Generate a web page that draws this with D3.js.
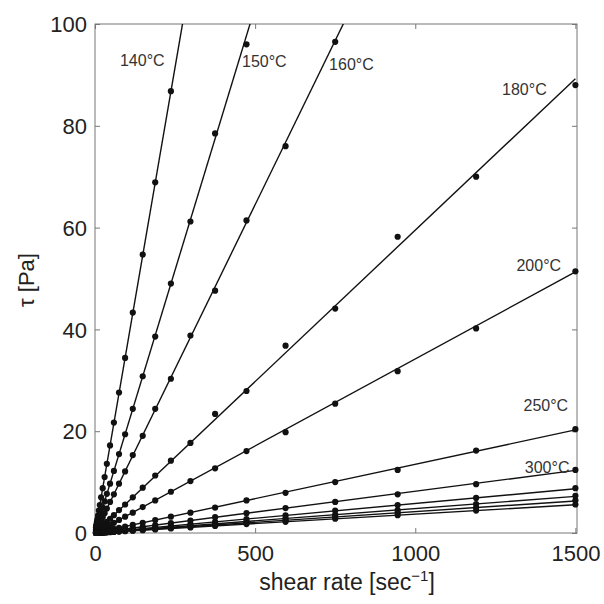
<!DOCTYPE html>
<html><head><meta charset="utf-8">
<script src="https://cdn.jsdelivr.net/npm/d3@7"></script>
<style>
html,body{margin:0;padding:0;background:#fff;}
svg{display:block;}
text{font-family:"Liberation Sans",Arial,Helvetica,sans-serif;}
</style></head>
<body>
<svg id="chart" width="604" height="604"></svg>
<script>
// ---------- data ----------
const shearRates = [1500, 1190, 945, 750, 595, 473, 375, 298, 237, 188, 149, 118, 94, 75, 59, 47, 37, 30, 24, 19, 15, 12, 9.4, 7.5, 5.9, 4.7, 3.7, 3.0];
const temperatures = ["140°C", "150°C", "160°C", "180°C", "200°C", "250°C", "300°C", "", "", "", ""];
const fitSlopes = [0.366, 0.2066, 0.129, 0.0595, 0.0342, 0.0135, 0.0082, 0.0058, 0.0048, 0.0042, 0.0037];
const stress140 = [null, null, null, null, null, null, null, null, 86.8, 68.9, 54.7, 43.3, 34.4, 27.6, 21.7, 17.2, 13.6, 11.0, 8.8, 7.0, 5.5, 4.4, 3.4, 2.7, 2.2, 1.7, 1.4, 1.1];
const stress150 = [null, null, null, null, null, 96.0, 78.5, 61.2, 49.0, 38.6, 30.8, 24.4, 19.4, 15.5, 12.2, 9.7, 7.7, 6.2, 5.0, 3.9, 3.1, 2.5, 1.9, 1.55, 1.2, 0.97, 0.76, 0.62];
const stress160 = [null, null, null, 96.5, 76.0, 61.4, 47.6, 38.8, 30.3, 24.4, 19.1, 15.3, 12.1, 9.7, 7.6, 6.1, 4.8, 3.9, 3.1, 2.45, 1.95, 1.55, 1.2, 0.97, 0.76, 0.61, 0.48, 0.39];
const stress180 = [88.0, 70.0, 58.2, 44.1, 36.8, 27.9, 23.4, 17.7, 14.2, 11.3, 8.9, 7.0, 5.6, 4.5, 3.5, 2.8, 2.2, 1.8, 1.4, 1.13, 0.9, 0.71, 0.56, 0.45, 0.35, 0.28, 0.22, 0.18];
const stress200 = [51.4, 40.2, 31.8, 25.4, 19.8, 16.1, 12.7, 10.2, 8.1, 6.4, 5.1, 4.0, 3.2, 2.56, 2.0, 1.6, 1.27, 1.03, 0.82, 0.65, 0.51, 0.41, 0.32, 0.26, 0.2, 0.16, 0.13, 0.1];
const stress250 = [20.4, 16.2, 12.4, 10.0, 7.9, 6.4, 5.0, 4.0, 3.2, 2.55, 2.0, 1.6, 1.27, 1.0, 0.8, 0.63, 0.5, 0.4, 0.32, 0.26, 0.2, 0.16, 0.13, 0.1, 0.08, 0.06, 0.05, 0.04];
const stress300 = [12.4, 9.6, 7.6, 6.1, 4.9, 3.9, 3.1, 2.45, 1.95, 1.54, 1.22, 0.97, 0.77, 0.62, 0.48, 0.39, 0.3, 0.25, 0.2, 0.16, 0.12, 0.1, 0.08, 0.06, 0.05, 0.04, 0.03, 0.025];
const stressL8 = [8.8, 6.9, 5.5, 4.4, 3.45, 2.75, 2.2, 1.73, 1.37, 1.09, 0.86, 0.68, 0.55, 0.44, 0.34, 0.27, 0.21, 0.17, 0.14, 0.11, 0.087, 0.07, 0.055, 0.044, 0.034, 0.027, 0.021, 0.017];
const stressL9 = [7.3, 5.7, 4.5, 3.6, 2.86, 2.27, 1.8, 1.43, 1.14, 0.9, 0.72, 0.57, 0.45, 0.36, 0.28, 0.23, 0.18, 0.14, 0.115, 0.09, 0.072, 0.058, 0.045, 0.036, 0.028, 0.023, 0.018, 0.014];
const stressL10 = [6.4, 5.0, 4.0, 3.15, 2.5, 2.0, 1.58, 1.25, 1.0, 0.79, 0.63, 0.5, 0.39, 0.32, 0.25, 0.2, 0.155, 0.126, 0.1, 0.08, 0.063, 0.05, 0.04, 0.032, 0.025, 0.02, 0.016, 0.013];
const stressL11 = [5.6, 4.4, 3.5, 2.8, 2.2, 1.75, 1.39, 1.1, 0.88, 0.7, 0.55, 0.44, 0.35, 0.28, 0.22, 0.17, 0.137, 0.11, 0.09, 0.07, 0.055, 0.044, 0.035, 0.028, 0.022, 0.017, 0.014, 0.011];
const xTicks = [0, 500, 1000, 1500];
const yTicks = [0, 20, 40, 60, 80, 100];
// label anchors (data coords) kept separate from values
const labelAnchorX = [78, 459, 731, 1271, 1316, 1338, 1342];
const labelAnchorY = [91.7, 91.5, 90.9, 86.0, 51.4, 24.0, 11.8];

const allStress = [stress140, stress150, stress160, stress180, stress200, stress250, stress300, stressL8, stressL9, stressL10, stressL11];

// ---------- layout ----------
const svg = d3.select("#chart");
const mLeft = 95, mRight = 577, mTop = 24, mBottom = 533;
const x = d3.scaleLinear().domain([0, 1505]).range([mLeft, mRight]);
const y = d3.scaleLinear().domain([0, 100]).range([mBottom, mTop]);
const axisColor = "#777";
const textColor = "#222";

svg.append("defs").append("clipPath").attr("id", "plotclip")
  .append("rect").attr("x", mLeft).attr("y", mTop).attr("width", mRight - mLeft).attr("height", mBottom - mTop);

// box
svg.append("rect").attr("x", mLeft).attr("y", mTop).attr("width", mRight - mLeft).attr("height", mBottom - mTop)
  .attr("fill", "none").attr("stroke", axisColor).attr("stroke-width", 1);

// axes with inward ticks
const gx = svg.append("g").attr("transform", `translate(0,${mBottom})`)
  .call(d3.axisBottom(x).tickValues(xTicks).tickSizeInner(-5).tickSizeOuter(0).tickPadding(12).tickFormat(d3.format("d")));
const gxTop = svg.append("g").attr("transform", `translate(0,${mTop})`)
  .call(d3.axisTop(x).tickValues(xTicks).tickSizeInner(-5).tickSizeOuter(0).tickFormat(""));
const gy = svg.append("g").attr("transform", `translate(${mLeft},0)`)
  .call(d3.axisLeft(y).tickValues(yTicks).tickSizeInner(-5).tickSizeOuter(0).tickPadding(8).tickFormat(d3.format("d")));
const gyR = svg.append("g").attr("transform", `translate(${mRight},0)`)
  .call(d3.axisRight(y).tickValues(yTicks).tickSizeInner(-5).tickSizeOuter(0).tickFormat(""));
[gx, gxTop, gy, gyR].forEach(g => {
  g.select(".domain").remove();
  g.selectAll(".tick line").attr("stroke", axisColor);
  g.selectAll(".tick text").attr("fill", textColor).attr("font-size", 22)
    .attr("font-family", "'Liberation Sans', Arial, sans-serif");
});
gx.selectAll(".tick text").attr("dy", "0.71em");
gy.selectAll(".tick text").attr("dy", "0.35em");

// fit lines
const plot = svg.append("g").attr("clip-path", "url(#plotclip)");
fitSlopes.forEach(s => {
  const pts = [[0, 0], [1500, s * 1500]];
  plot.append("path")
    .attr("d", d3.line().x(d => x(d[0])).y(d => y(d[1]))(pts))
    .attr("fill", "none").attr("stroke", "#111").attr("stroke-width", 1.4);
});

// data points
const pointsG = svg.append("g");
allStress.forEach(series => {
  const data = shearRates.map((r, i) => [r, series[i]]).filter(d => d[1] !== null && d[1] <= 100);
  pointsG.selectAll(null).data(data).enter().append("circle")
    .attr("cx", d => x(d[0])).attr("cy", d => y(d[1])).attr("r", 3.1)
    .attr("fill", "#111");
});

// temperature labels
temperatures.forEach((t, i) => {
  if (!t) return;
  svg.append("text").attr("x", x(labelAnchorX[i])).attr("y", y(labelAnchorY[i]))
    .attr("font-size", 16).attr("fill", "#333").text(t);
});

// axis titles
const xt = svg.append("text").attr("x", 347).attr("y", 590).attr("text-anchor", "middle")
  .attr("font-size", 23).attr("fill", textColor);
xt.append("tspan").text("shear rate [sec");
xt.append("tspan").attr("dy", -9).attr("font-size", 15).text("−1");
xt.append("tspan").attr("dy", 9).text("]");

svg.append("text").attr("transform", "translate(34,280) rotate(-90)").attr("text-anchor", "middle")
  .attr("font-size", 22).attr("fill", textColor).text("τ [Pa]");
</script>
</body></html>
